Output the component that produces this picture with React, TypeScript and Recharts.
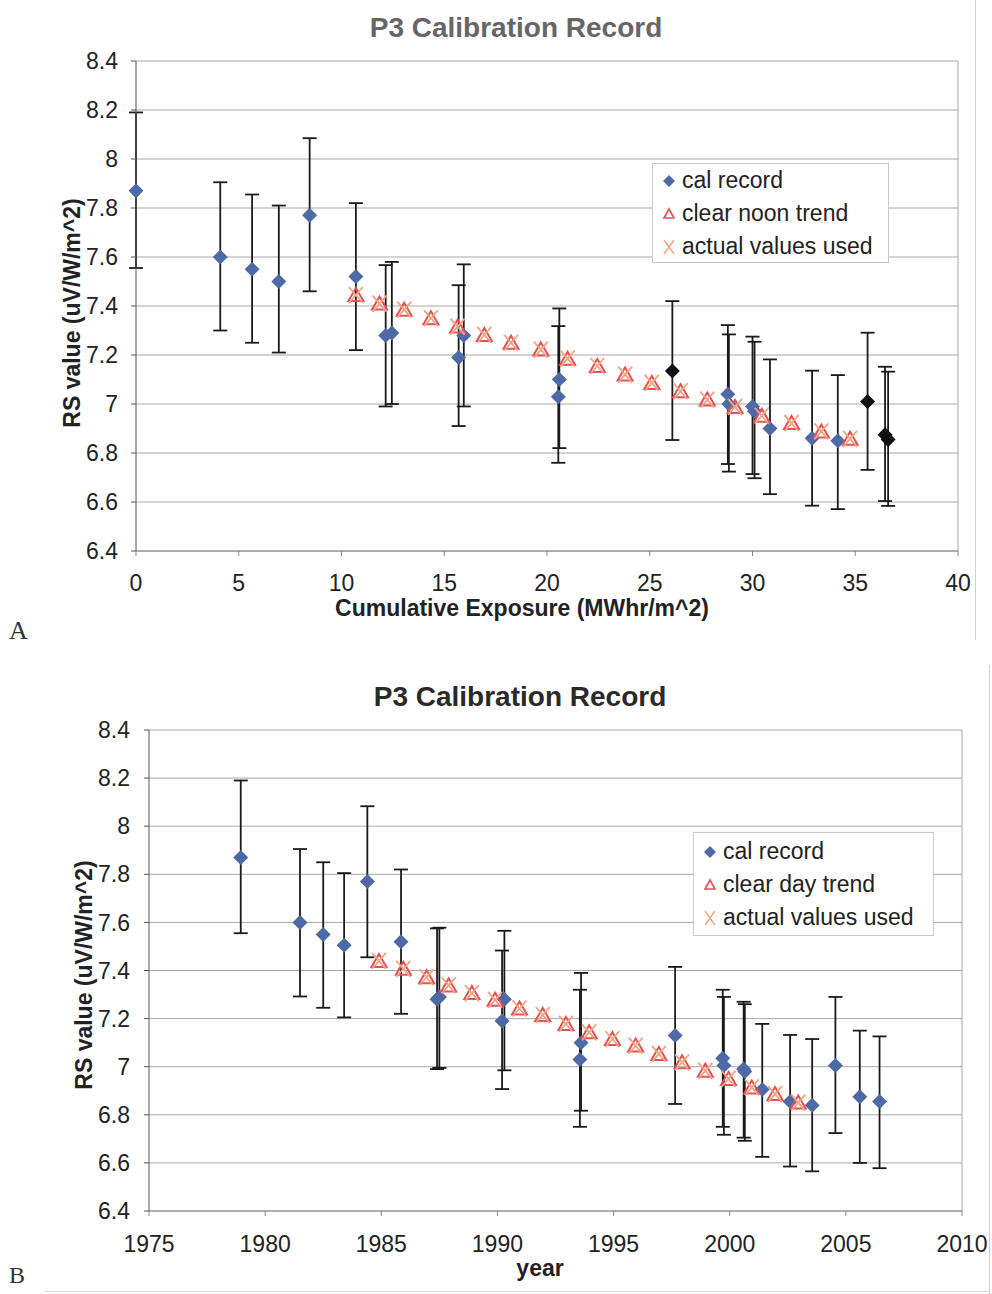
import {
  CartesianGrid,
  Cell,
  ErrorBar,
  ReferenceLine,
  Scatter,
  ScatterChart,
  XAxis,
  YAxis,
} from 'recharts';

const FONT = '"Liberation Sans", Arial, sans-serif';
const CAL_BLUE = '#4d6aa6';
const CAL_BLACK = '#111111';
const TREND_RED = '#e4505c';
const USED_ORANGE = '#f2a57c';

const NAMES_A = ['cal record', 'clear noon trend', 'actual values used'];
const NAMES_B = ['cal record', 'clear day trend', 'actual values used'];

const RS_TICKS = [6.4, 6.6, 6.8, 7, 7.2, 7.4, 7.6, 7.8, 8, 8.2, 8.4];
const EXPOSURE_TICKS = [0, 5, 10, 15, 20, 25, 30, 35, 40];
const YEAR_TICKS = [1975, 1980, 1985, 1990, 1995, 2000, 2005, 2010];

// --- panel A : RS vs cumulative exposure ---
const calExposure = [0, 4.1, 5.65, 6.95, 8.45, 10.7, 12.15, 12.45, 15.7, 15.95, 20.55, 20.6, 26.1, 28.8, 28.85, 30.0, 30.1, 30.85, 32.9, 34.15, 35.6, 36.45, 36.6];
const calRsA = [7.87, 7.6, 7.55, 7.5, 7.77, 7.52, 7.28, 7.29, 7.19, 7.28, 7.03, 7.1, 7.135, 7.04, 7.0, 6.99, 6.97, 6.9, 6.86, 6.85, 7.01, 6.875, 6.855];
const calLowA = [7.555, 7.3, 7.25, 7.21, 7.46, 7.22, 6.99, 7.0, 6.91, 6.99, 6.76, 6.82, 6.853, 6.755, 6.724, 6.714, 6.697, 6.632, 6.585, 6.571, 6.731, 6.604, 6.584];
const calHighA = [8.19, 7.905, 7.855, 7.81, 8.085, 7.82, 7.567, 7.58, 7.485, 7.57, 7.318, 7.39, 7.42, 7.322, 7.284, 7.275, 7.254, 7.182, 7.136, 7.118, 7.291, 7.152, 7.132];
const calBlackA = [false, false, false, false, false, false, false, false, false, false, false, false, true, false, false, false, false, false, false, false, true, true, true];

const trendExposure = [10.7, 11.85, 13.05, 14.35, 15.65, 16.95, 18.25, 19.7, 21.0, 22.45, 23.8, 25.1, 26.5, 27.8, 29.15, 30.45, 31.9, 33.35, 34.75];
const trendRsA = [7.445, 7.41, 7.385, 7.35, 7.316, 7.282, 7.25, 7.222, 7.185, 7.155, 7.12, 7.086, 7.052, 7.018, 6.988, 6.952, 6.922, 6.888, 6.858];

// --- panel B : RS vs year ---
const calYear = [1978.95, 1981.5, 1982.5, 1983.4, 1984.4, 1985.85, 1987.4, 1987.5, 1990.2, 1990.3, 1993.55, 1993.6, 1997.65, 1999.7, 1999.75, 2000.6, 2000.65, 2001.4, 2002.6, 2003.55, 2004.55, 2005.6, 2006.45];
const calRsB = [7.87, 7.6, 7.55, 7.505, 7.77, 7.52, 7.28, 7.29, 7.19, 7.28, 7.03, 7.1, 7.13, 7.035, 7.005, 6.99, 6.98, 6.905, 6.855, 6.84, 7.005, 6.875, 6.855];
const calLowB = [7.555, 7.292, 7.245, 7.205, 7.455, 7.22, 6.99, 6.995, 6.907, 6.985, 6.75, 6.817, 6.845, 6.75, 6.717, 6.705, 6.692, 6.625, 6.585, 6.565, 6.724, 6.6, 6.578];
const calHighB = [8.19, 7.905, 7.85, 7.805, 8.083, 7.82, 7.575, 7.578, 7.483, 7.565, 7.32, 7.39, 7.415, 7.32, 7.29, 7.27, 7.26, 7.178, 7.132, 7.115, 7.29, 7.15, 7.126];

const trendYear = [1984.9, 1985.95, 1986.95, 1987.9, 1988.9, 1989.9, 1990.95, 1991.95, 1992.95, 1993.95, 1994.95, 1995.95, 1996.95, 1997.95, 1998.95, 1999.95, 2000.95, 2001.95, 2002.95];
const trendRsB = [7.44, 7.407, 7.372, 7.338, 7.306, 7.278, 7.242, 7.215, 7.178, 7.143, 7.115, 7.088, 7.053, 7.018, 6.983, 6.949, 6.914, 6.886, 6.851];

const toCalRows = (xs: number[], ys: number[], lo: number[], hi: number[]) =>
  xs.map((x, i) => ({ x, y: ys[i], err: [ys[i] - lo[i], hi[i] - ys[i]] }));
const toRows = (xs: number[], ys: number[]) => xs.map((x, i) => ({ x, y: ys[i] }));

const calRowsA = toCalRows(calExposure, calRsA, calLowA, calHighA);
const trendRowsA = toRows(trendExposure, trendRsA);
const calRowsB = toCalRows(calYear, calRsB, calLowB, calHighB);
const trendRowsB = toRows(trendYear, trendRsB);

const DiamondShape = (props: any) => {
  const { cx, cy, fill } = props;
  const r = 7.5;
  return <path d={`M${cx},${cy - r}L${cx + r},${cy}L${cx},${cy + r}L${cx - r},${cy}Z`} fill={fill || CAL_BLUE} />;
};

const TriangleShape = (props: any) => {
  const { cx, cy } = props;
  return (
    <path
      d={`M${cx},${cy - 7}L${cx + 7.5},${cy + 6}L${cx - 7.5},${cy + 6}Z`}
      fill="none"
      stroke={TREND_RED}
      strokeWidth={2}
    />
  );
};

const XShape = (props: any) => {
  const { cx, cy } = props;
  return (
    <path
      d={`M${cx - 7},${cy - 8}L${cx + 7},${cy + 8}M${cx + 7},${cy - 8}L${cx - 7},${cy + 8}`}
      stroke={USED_ORANGE}
      strokeWidth={1.8}
      fill="none"
    />
  );
};

const tickStyle = { fontSize: 23, fill: '#222', fontFamily: FONT };

function LegendBox({ left, top, width, height, names, rowTop }: any) {
  const icons = [
    <path key="d" d="M8,2L14,8L8,14L2,8Z" fill={CAL_BLUE} />,
    <path key="t" d="M8,3L13,12L3,12Z" fill="none" stroke={TREND_RED} strokeWidth={1.6} />,
    <path key="x" d="M3,1L13,15M13,1L3,15" stroke={USED_ORANGE} strokeWidth={1.4} />,
  ];
  return (
    <div
      style={{
        position: 'absolute',
        left,
        top,
        width,
        height,
        boxSizing: 'border-box',
        border: '1px solid #c8c8c8',
        background: '#fff',
        fontFamily: FONT,
        fontSize: 23,
        color: '#222',
        paddingTop: rowTop,
      }}
    >
      {names.map((n: string, i: number) => (
        <div
          key={n}
          style={{ display: 'flex', alignItems: 'center', height: 33, whiteSpace: 'nowrap' }}
        >
          <svg width={16} height={16} style={{ marginLeft: 8, marginRight: 5 }}>
            {icons[i]}
          </svg>
          <span>{n}</span>
        </div>
      ))}
    </div>
  );
}

const abs = (style: any) => ({ position: 'absolute' as const, fontFamily: FONT, ...style });

export default function App() {
  return (
    <div style={{ position: 'absolute', left: 0, top: 0, width: 992, height: 1294, background: '#fff', overflow: 'hidden' }}>
      {/* panel A */}
      <div style={abs({ left: 0, top: 0 })}>
        <ScatterChart width={992} height={640} margin={{ top: 61, right: 34, bottom: 59, left: 76 }}>
          <CartesianGrid vertical={false} stroke="#a8a8a8" />
          <XAxis
            type="number"
            dataKey="x"
            domain={[0, 40]}
            ticks={EXPOSURE_TICKS}
            height={30}
            tick={tickStyle}
            tickSize={5}
            tickMargin={19}
            axisLine={{ stroke: '#888' }}
            tickLine={{ stroke: '#888' }}
          />
          <YAxis
            type="number"
            dataKey="y"
            domain={[6.4, 8.4]}
            ticks={RS_TICKS}
            width={60}
            tick={tickStyle}
            tickSize={5}
            tickMargin={13}
            axisLine={{ stroke: '#555' }}
            tickLine={{ stroke: '#555' }}
            allowDataOverflow
          />
          <ReferenceLine x={40} stroke="#a8a8a8" />
          <Scatter name={NAMES_A[0]} data={calRowsA} shape={DiamondShape} isAnimationActive={false}>
            {calRowsA.map((_, i) => (
              <Cell key={i} fill={calBlackA[i] ? CAL_BLACK : CAL_BLUE} />
            ))}
            <ErrorBar dataKey="err" direction="y" width={7} stroke="#1a1a1a" strokeWidth={1.8} isAnimationActive={false} />
          </Scatter>
          <Scatter name={NAMES_A[1]} data={trendRowsA} shape={TriangleShape} isAnimationActive={false} />
          <Scatter name={NAMES_A[2]} data={trendRowsA} shape={XShape} isAnimationActive={false} />
        </ScatterChart>
      </div>
      <div style={abs({ left: 516, top: 28, transform: 'translate(-50%, -50%)', fontSize: 28, fontWeight: 'bold', color: '#666', whiteSpace: 'nowrap' })}>
        P3 Calibration Record
      </div>
      <div style={abs({ left: 72, top: 313, transform: 'translate(-50%, -50%) rotate(-90deg)', fontSize: 23, fontWeight: 'bold', color: '#222', whiteSpace: 'nowrap' })}>
        RS value (uV/W/m^2)
      </div>
      <div style={abs({ left: 522, top: 608, transform: 'translate(-50%, -50%)', fontSize: 23, fontWeight: 'bold', color: '#222', whiteSpace: 'nowrap' })}>
        Cumulative Exposure (MWhr/m^2)
      </div>
      <LegendBox left={652} top={163} width={237} height={100} names={NAMES_A} rowTop={0} />
      <div style={abs({ left: 975, top: 0, width: 1, height: 640, background: '#d0d0d0' })} />
      <div style={{ position: 'absolute', left: 9, top: 616, fontFamily: '"Liberation Serif", serif', fontSize: 26, color: '#333' }}>A</div>

      {/* panel B */}
      <div style={abs({ left: 0, top: 670 })}>
        <ScatterChart width={992} height={620} margin={{ top: 60, right: 30, bottom: 49, left: 89 }}>
          <CartesianGrid vertical={false} stroke="#a8a8a8" />
          <XAxis
            type="number"
            dataKey="x"
            domain={[1975, 2010]}
            ticks={YEAR_TICKS}
            height={30}
            tick={tickStyle}
            tickSize={5}
            tickMargin={20}
            axisLine={{ stroke: '#888' }}
            tickLine={{ stroke: '#888' }}
          />
          <YAxis
            type="number"
            dataKey="y"
            domain={[6.4, 8.4]}
            ticks={RS_TICKS}
            width={60}
            tick={tickStyle}
            tickSize={5}
            tickMargin={14}
            axisLine={{ stroke: '#555' }}
            tickLine={{ stroke: '#555' }}
            allowDataOverflow
          />
          <ReferenceLine x={2010} stroke="#a8a8a8" />
          <Scatter name={NAMES_B[0]} data={calRowsB} shape={DiamondShape} fill={CAL_BLUE} isAnimationActive={false}>
            <ErrorBar dataKey="err" direction="y" width={7} stroke="#1a1a1a" strokeWidth={1.8} isAnimationActive={false} />
          </Scatter>
          <Scatter name={NAMES_B[1]} data={trendRowsB} shape={TriangleShape} isAnimationActive={false} />
          <Scatter name={NAMES_B[2]} data={trendRowsB} shape={XShape} isAnimationActive={false} />
        </ScatterChart>
      </div>
      <div style={abs({ left: 520, top: 697, transform: 'translate(-50%, -50%)', fontSize: 28, fontWeight: 'bold', color: '#2a2a2a', whiteSpace: 'nowrap' })}>
        P3 Calibration Record
      </div>
      <div style={abs({ left: 84, top: 975, transform: 'translate(-50%, -50%) rotate(-90deg)', fontSize: 23, fontWeight: 'bold', color: '#222', whiteSpace: 'nowrap' })}>
        RS value (uV/W/m^2)
      </div>
      <div style={abs({ left: 540, top: 1268, transform: 'translate(-50%, -50%)', fontSize: 23, fontWeight: 'bold', color: '#222' })}>
        year
      </div>
      <LegendBox left={693} top={832} width={241} height={104} names={NAMES_B} rowTop={2} />
      <div style={abs({ left: 989, top: 665, width: 1, height: 629, background: '#d0d0d0' })} />
      <div style={abs({ left: 45, top: 1291, width: 945, height: 1, background: '#d8d8d8' })} />
      <div style={{ position: 'absolute', left: 9, top: 1262, fontFamily: '"Liberation Serif", serif', fontSize: 24, color: '#333' }}>B</div>
    </div>
  );
}
